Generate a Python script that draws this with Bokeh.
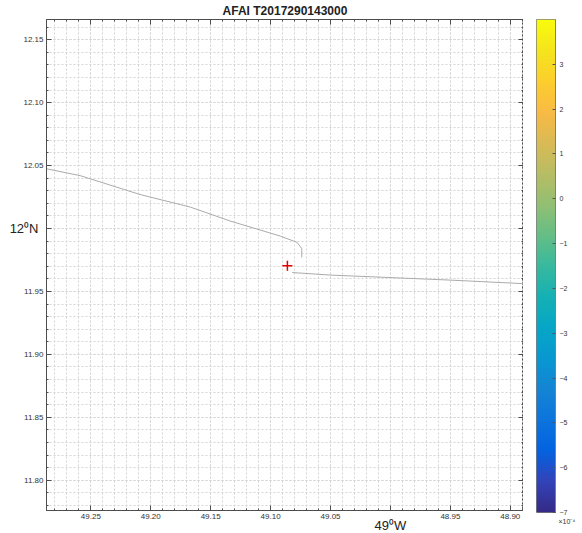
import numpy as np
from bokeh.plotting import figure
from bokeh.layouts import row
from bokeh.models import (Range1d, FixedTicker, LinearAxis, CustomJSTickFormatter,
                          Title, LinearColorMapper)
from bokeh.embed import file_html
from bokeh.resources import INLINE

# ---------------- data ----------------
title_text = "AFAI T2017290143000"
x_ticks = [49.25, 49.20, 49.15, 49.10, 49.05, 49.00, 48.95, 48.90]
y_ticks = [11.80, 11.85, 11.90, 11.95, 12.00, 12.05, 12.10, 12.15]
x_minor = [round(v, 2) for v in np.arange(48.88, 49.30, 0.01)]
y_minor = [round(v, 2) for v in np.arange(11.77, 12.18, 0.01)]
x_deg_label = "49\u2070W"
y_deg_label = "12\u2070N"

track_a_lon = [49.29, 49.259, 49.209, 49.167, 49.134, 49.092, 49.078, 49.074, 49.074]
track_a_lat = [12.048, 12.042, 12.027, 12.017, 12.006, 11.994, 11.989, 11.984, 11.977]
track_b_lon = [49.082, 49.05, 49.00, 48.95, 48.885]
track_b_lat = [11.965, 11.963, 11.961, 11.959, 11.956]
point_lon = [49.086]
point_lat = [11.9705]

cbar_ticks = [-7, -6, -5, -4, -3, -2, -1, 0, 1, 2, 3]
cbar_low, cbar_high = -7, 4
cbar_scale_label = "\u00d710\u207b\u2074"

# parula colormap anchors
parula_anchors = [
    (0.2081, 0.1663, 0.5292), (0.1959, 0.2645, 0.7279), (0.0117, 0.3875, 0.8820),
    (0.0498, 0.4586, 0.8641), (0.0793, 0.5200, 0.8312), (0.0343, 0.5966, 0.8199),
    (0.0228, 0.6535, 0.7768), (0.0843, 0.6928, 0.7062), (0.2178, 0.7250, 0.6193),
    (0.3953, 0.7459, 0.5244), (0.5709, 0.7485, 0.4494), (0.7184, 0.7411, 0.3905),
    (0.8507, 0.7299, 0.3360), (0.9739, 0.7314, 0.2666), (0.9880, 0.8066, 0.1794),
    (0.9589, 0.8949, 0.1132), (0.9763, 0.9831, 0.0538)]
anc = np.array(parula_anchors)
pos = np.linspace(0, 1, len(anc))
t = np.linspace(0, 1, 256)
parula = ["#%02x%02x%02x" % tuple(int(round(np.interp(tt, pos, anc[:, k]) * 255)) for k in range(3))
          for tt in t]

FONT = "Liberation Sans"
AX = "#4d4d4d"
LAB = "#333333"

p = figure(frame_width=477, frame_height=491,
           x_range=Range1d(49.287, 48.889), y_range=Range1d(11.776, 12.166),
           output_backend="svg", toolbar_location=None,
           min_border_left=46, min_border_top=17, min_border_bottom=24, min_border_right=0,
           x_axis_location=None, y_axis_location=None)
p.outline_line_color = AX
p.background_fill_color = "white"

p.title.text = title_text
p.title.align = "center"
p.title.text_font = FONT
p.title.text_font_size = "12px"
p.title.text_font_style = "bold"
p.title.text_color = "#222222"
p.title.standoff = 3

xfmt = CustomJSTickFormatter(code="return Math.abs(tick-49)<1e-6 ? '' : tick.toFixed(2);")
yfmt = CustomJSTickFormatter(code="return Math.abs(tick-12)<1e-6 ? '' : tick.toFixed(2);")
blank = CustomJSTickFormatter(code="return '';")


def style(ax, labels=True):
    ax.major_tick_in = 5
    ax.major_tick_out = 0
    ax.minor_tick_in = 2
    ax.minor_tick_out = 0
    ax.axis_line_color = AX
    ax.major_tick_line_color = AX
    ax.minor_tick_line_color = AX
    ax.major_label_text_font = FONT
    ax.major_label_text_color = LAB
    ax.major_label_text_font_size = "8px"
    ax.major_label_standoff = 3 if labels else 0


bx = LinearAxis(ticker=FixedTicker(ticks=x_ticks, minor_ticks=x_minor), formatter=xfmt)
style(bx)
p.add_layout(bx, "below")
tx = LinearAxis(ticker=FixedTicker(ticks=x_ticks, minor_ticks=x_minor), formatter=blank)
style(tx, False)
p.add_layout(tx, "above")
ly = LinearAxis(ticker=FixedTicker(ticks=y_ticks, minor_ticks=y_minor), formatter=yfmt)
style(ly)
p.add_layout(ly, "left")
ry = LinearAxis(ticker=FixedTicker(ticks=y_ticks, minor_ticks=y_minor), formatter=blank)
style(ry, False)
p.add_layout(ry, "right")

# degree labels as extra axes with a single tick
def deg_axis(tick, text, standoff):
    ax = LinearAxis(ticker=FixedTicker(ticks=[tick]),
                    formatter=CustomJSTickFormatter(code="return %r;" % text))
    ax.axis_line_color = None
    ax.major_tick_line_color = None
    ax.minor_tick_line_color = None
    ax.major_tick_in = 0
    ax.major_tick_out = 0
    ax.major_label_text_font = FONT
    ax.major_label_text_font_size = "13px"
    ax.major_label_text_color = "#222222"
    ax.major_label_standoff = standoff
    return ax


p.add_layout(deg_axis(49.0, x_deg_label, -4), "below")
p.add_layout(deg_axis(12.0, y_deg_label, -18), "left")

p.xgrid.ticker = FixedTicker(ticks=x_ticks, minor_ticks=x_minor)
p.ygrid.ticker = FixedTicker(ticks=y_ticks, minor_ticks=y_minor)
for g in (p.xgrid, p.ygrid):
    g.grid_line_color = "#d4d4d4"
    g.grid_line_dash = "2 2"
    g.minor_grid_line_color = "#d4d4d4"
    g.minor_grid_line_dash = "2 2"

p.line(track_a_lon, track_a_lat, line_color="#ababab", line_width=1)
p.line(track_b_lon, track_b_lat, line_color="#ababab", line_width=1)
p.scatter(point_lon, point_lat, marker="cross", size=10, line_color="#e00000", line_width=1.5)

# ---------------- colour bar as its own small figure ----------------
mapper = LinearColorMapper(palette=parula, low=cbar_low, high=cbar_high)
c = figure(frame_width=19, frame_height=493, x_range=Range1d(0, 1),
           y_range=Range1d(cbar_low, cbar_high), output_backend="svg", toolbar_location=None,
           min_border_left=13, min_border_top=17, min_border_bottom=22, min_border_right=26,
           x_axis_location=None, y_axis_location=None)
c.grid.visible = False
c.outline_line_color = "#808080"
grad = np.linspace(cbar_low, cbar_high, 256).reshape(256, 1)
c.image(image=[grad], x=0, y=cbar_low, dw=1, dh=cbar_high - cbar_low, color_mapper=mapper)
cax = LinearAxis(ticker=FixedTicker(ticks=cbar_ticks))
cax.major_tick_in = 3
cax.major_tick_out = 0
cax.minor_tick_line_color = None
cax.axis_line_color = "#808080"
cax.major_tick_line_color = "#555555"
cax.major_label_text_font = FONT
cax.major_label_text_font_size = "7px"
cax.major_label_text_color = LAB
cax.major_label_standoff = 4
c.add_layout(cax, "right")
c.add_layout(Title(text=cbar_scale_label, align="left", offset=22, standoff=6,
                   text_font=FONT, text_font_size="7px", text_font_style="normal",
                   text_color=LAB), "below")

layout = row(p, c)
open("out.html", "w").write(file_html(layout, INLINE))
